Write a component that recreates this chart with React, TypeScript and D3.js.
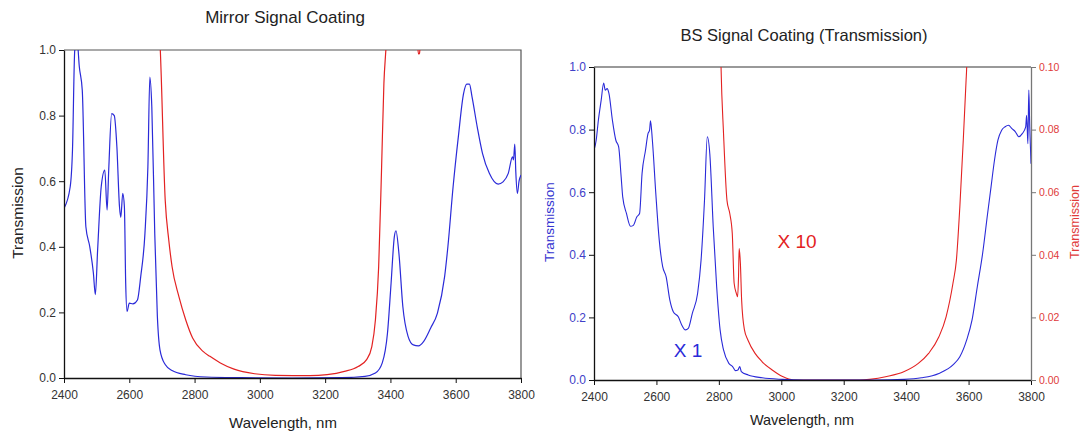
import React, { useEffect, useRef } from "react";
import * as d3 from "d3";

// Wavelength (nm) / transmission samples for each trace.
const mirrorSignalWl = [2400, 2419, 2426, 2433, 2440, 2447, 2456, 2467, 2479, 2490, 2496, 2503, 2514, 2525, 2532, 2537, 2546, 2554, 2562, 2570, 2574, 2580, 2585, 2589, 2593, 2600, 2611, 2625, 2635, 2648, 2657, 2663, 2669, 2678, 2686, 2694, 2710, 2731, 2773, 2836, 2942, 3100, 3250, 3322, 3354, 3375, 3391, 3402, 3412, 3417, 3426, 3438, 3454, 3470, 3486, 3502, 3523, 3544, 3566, 3576, 3592, 3608, 3624, 3634, 3642, 3650, 3666, 3682, 3703, 3730, 3745, 3761, 3774, 3777, 3781, 3784, 3789, 3794, 3800];
const mirrorSignalT = [0.517, 0.583, 0.695, 1.0, 1.03, 0.948, 0.877, 0.461, 0.40, 0.32, 0.254, 0.39, 0.583, 0.634, 0.512, 0.634, 0.806, 0.80, 0.705, 0.522, 0.49, 0.563, 0.522, 0.289, 0.203, 0.228, 0.226, 0.238, 0.309, 0.441, 0.644, 0.917, 0.827, 0.441, 0.188, 0.086, 0.041, 0.023, 0.010, 0.003, 0.001, 0.0, 0.001, 0.005, 0.015, 0.046, 0.137, 0.289, 0.431, 0.449, 0.38, 0.218, 0.127, 0.101, 0.098, 0.112, 0.152, 0.198, 0.309, 0.40, 0.583, 0.735, 0.867, 0.896, 0.896, 0.857, 0.765, 0.685, 0.624, 0.591, 0.598, 0.624, 0.674, 0.665, 0.713, 0.63, 0.563, 0.60, 0.619];

const mirrorRefWl = [2690, 2695, 2710, 2721, 2731, 2752, 2773, 2794, 2826, 2847, 2879, 2921, 2984, 3048, 3153, 3206, 3259, 3301, 3327, 3343, 3354, 3364, 3373, 3380, 3386, 3392, 3480, 3486, 3489, 3494, 3800];
const mirrorRefT = [1.1, 1.0, 0.543, 0.42, 0.34, 0.248, 0.177, 0.122, 0.081, 0.066, 0.046, 0.027, 0.013, 0.008, 0.007, 0.010, 0.020, 0.035, 0.056, 0.096, 0.177, 0.34, 0.644, 0.898, 1.0, 1.1, 1.05, 0.988, 0.99, 1.05, 1.1];

const bsSignalWl = [2400, 2407, 2414, 2423, 2431, 2436, 2442, 2448, 2459, 2470, 2479, 2487, 2492, 2504, 2517, 2526, 2537, 2546, 2554, 2565, 2573, 2578, 2581, 2587, 2598, 2609, 2620, 2631, 2643, 2654, 2670, 2681, 2693, 2702, 2715, 2732, 2743, 2754, 2763, 2771, 2782, 2793, 2804, 2815, 2832, 2844, 2853, 2861, 2867, 2872, 2894, 2939, 3004, 3071, 3300, 3394, 3449, 3505, 3550, 3572, 3594, 3611, 3628, 3645, 3661, 3672, 3683, 3694, 3706, 3717, 3728, 3739, 3750, 3761, 3772, 3783, 3786, 3790, 3793, 3796, 3800];
const bsSignalT = [0.734, 0.766, 0.83, 0.894, 0.949, 0.926, 0.931, 0.915, 0.83, 0.766, 0.745, 0.649, 0.585, 0.532, 0.491, 0.494, 0.521, 0.532, 0.66, 0.734, 0.787, 0.798, 0.828, 0.766, 0.596, 0.447, 0.362, 0.33, 0.255, 0.218, 0.202, 0.176, 0.16, 0.165, 0.213, 0.277, 0.383, 0.574, 0.777, 0.723, 0.489, 0.298, 0.16, 0.096, 0.053, 0.043, 0.03, 0.032, 0.043, 0.027, 0.016, 0.007, 0.002, 0.0, 0.0, 0.002, 0.007, 0.021, 0.048, 0.074, 0.128, 0.191, 0.298, 0.404, 0.532, 0.617, 0.702, 0.766, 0.798, 0.809, 0.814, 0.803, 0.793, 0.777, 0.787, 0.809, 0.846, 0.755, 0.926, 0.809, 0.691];

const bsRefWl = [2805, 2807, 2815, 2826, 2835, 2843, 2849, 2856, 2860, 2863, 2865, 2869, 2873, 2882, 2893, 2916, 2938, 2971, 3004, 3038, 3250, 3283, 3338, 3394, 3439, 3472, 3505, 3528, 3550, 3561, 3572, 3583, 3592, 3594, 3596];
const bsRefT = [0.11, 0.1, 0.0787, 0.0574, 0.0532, 0.0468, 0.0309, 0.0277, 0.0266, 0.033, 0.042, 0.0372, 0.0255, 0.016, 0.0128, 0.0085, 0.0059, 0.0032, 0.0011, 0.0, 0.0, 0.0002, 0.0011, 0.0027, 0.0053, 0.0085, 0.0138, 0.0202, 0.0309, 0.0383, 0.0553, 0.0766, 0.0957, 0.1, 0.11];

const xTicks = [2400, 2600, 2800, 3000, 3200, 3400, 3600, 3800];
const yTicks = [0, 0.2, 0.4, 0.6, 0.8, 1.0];
const y2Ticks = [0, 0.02, 0.04, 0.06, 0.08, 0.1];

const BLUE = "#2a2ad8";
const RED = "#e32222";
const FONT = "'Liberation Sans', Arial, sans-serif";

const toPts = (wl: number[], t: number[]) => wl.map((w, i) => [w, t[i]] as [number, number]);

export default function App() {
  const ref = useRef<SVGSVGElement>(null);

  useEffect(() => {
    const svg = d3.select(ref.current);
    svg.selectAll("*").remove();

    // ---------- Left panel: mirror ----------
    {
      const L = 64, R = 521, T = 50, B = 378;
      const x = d3.scaleLinear().domain([2400, 3800]).range([L, R]);
      const y = d3.scaleLinear().domain([0, 1]).range([B, T]);
      const g = svg.append("g");
      g.append("clipPath").attr("id", "clipL").append("rect").attr("x", L).attr("y", T).attr("width", R - L).attr("height", B - T);

      // frame top/right
      g.append("path").attr("d", `M${L},${T}H${R}V${B}`).attr("fill", "none").attr("stroke", "#555").attr("stroke-width", 1.2);

      const line = d3.line<[number, number]>().x(d => x(d[0])).y(d => y(d[1])).curve(d3.curveMonotoneX);
      const lines = g.append("g").attr("clip-path", "url(#clipL)");
      lines.append("path").attr("d", line(toPts(mirrorRefWl, mirrorRefT))!).attr("fill", "none").attr("stroke", RED).attr("stroke-width", 1.2);
      lines.append("path").attr("d", line(toPts(mirrorSignalWl, mirrorSignalT))!).attr("fill", "none").attr("stroke", BLUE).attr("stroke-width", 1.2);

      const xa = g.append("g").attr("transform", `translate(0,${B})`).call(d3.axisBottom(x).tickValues(xTicks).tickSize(5).tickSizeOuter(0).tickFormat(d3.format("d")));
      const ya = g.append("g").attr("transform", `translate(${L},0)`).call(d3.axisLeft(y).tickValues(yTicks).tickSize(5).tickSizeOuter(0).tickFormat(d3.format(".1f")));
      [xa, ya].forEach(a => {
        a.select(".domain").attr("stroke", "#111").attr("stroke-width", 1.3);
        a.selectAll(".tick line").attr("stroke", "#111");
        a.selectAll("text").attr("fill", "#333").attr("font-family", FONT).attr("font-size", 12);
      });
      xa.selectAll("text").attr("dy", "1.1em");

      g.append("text").attr("x", 285).attr("y", 23).attr("text-anchor", "middle").attr("font-family", FONT).attr("font-size", 17).attr("fill", "#222").text("Mirror Signal Coating");
      g.append("text").attr("x", 283).attr("y", 428).attr("text-anchor", "middle").attr("font-family", FONT).attr("font-size", 15).attr("fill", "#222").text("Wavelength, nm");
      g.append("text").attr("transform", `translate(23,213) rotate(-90)`).attr("text-anchor", "middle").attr("font-family", FONT).attr("font-size", 15.5).attr("fill", "#222").text("Transmission");
    }

    // ---------- Right panel: beam splitter ----------
    {
      const L = 594, R = 1031, T = 67, B = 380;
      const x = d3.scaleLinear().domain([2400, 3800]).range([L, R]);
      const y = d3.scaleLinear().domain([0, 1]).range([B, T]);
      const y2 = d3.scaleLinear().domain([0, 0.1]).range([B, T]);
      const g = svg.append("g");
      g.append("clipPath").attr("id", "clipR").append("rect").attr("x", L).attr("y", T).attr("width", R - L).attr("height", B - T);

      g.append("line").attr("x1", L).attr("x2", R).attr("y1", T).attr("y2", T).attr("stroke", "#777").attr("stroke-width", 1.3);

      const lines = g.append("g").attr("clip-path", "url(#clipR)");
      const line1 = d3.line<[number, number]>().x(d => x(d[0])).y(d => y(d[1])).curve(d3.curveMonotoneX);
      const line2 = d3.line<[number, number]>().x(d => x(d[0])).y(d => y2(d[1])).curve(d3.curveMonotoneX);
      lines.append("path").attr("d", line2(toPts(bsRefWl, bsRefT))!).attr("fill", "none").attr("stroke", RED).attr("stroke-width", 1.1);
      lines.append("path").attr("d", line1(toPts(bsSignalWl, bsSignalT))!).attr("fill", "none").attr("stroke", BLUE).attr("stroke-width", 1.1);

      const xa = g.append("g").attr("transform", `translate(0,${B})`).call(d3.axisBottom(x).tickValues(xTicks).tickSize(5).tickSizeOuter(0).tickFormat(d3.format("d")));
      xa.select(".domain").attr("stroke", "#111").attr("stroke-width", 1.3);
      xa.selectAll(".tick line").attr("stroke", "#111");
      xa.selectAll("text").attr("fill", "#333").attr("font-family", FONT).attr("font-size", 12).attr("dy", "1.1em");

      const ya = g.append("g").attr("transform", `translate(${L},0)`).call(d3.axisLeft(y).tickValues(yTicks).tickSize(5).tickSizeOuter(0).tickFormat(d3.format(".1f")));
      ya.select(".domain").attr("stroke", "#111").attr("stroke-width", 1.3);
      ya.selectAll(".tick line").attr("stroke", "#111");
      ya.selectAll("text").attr("fill", "#4040c8").attr("font-family", FONT).attr("font-size", 12);

      const ya2 = g.append("g").attr("transform", `translate(${R},0)`).call(d3.axisRight(y2).tickValues(y2Ticks).tickSize(5).tickSizeOuter(0).tickFormat(d3.format(".2f")));
      ya2.select(".domain").attr("stroke", "#777").attr("stroke-width", 1.3);
      ya2.selectAll(".tick line").attr("stroke", "#777");
      ya2.selectAll("text").attr("fill", "#e03a3a").attr("font-family", FONT).attr("font-size", 10.5);

      g.append("text").attr("x", 804).attr("y", 41).attr("text-anchor", "middle").attr("font-family", FONT).attr("font-size", 16.5).attr("fill", "#222").text("BS Signal Coating (Transmission)");
      g.append("text").attr("x", 802).attr("y", 425).attr("text-anchor", "middle").attr("font-family", FONT).attr("font-size", 14.5).attr("fill", "#222").text("Wavelength, nm");
      g.append("text").attr("transform", `translate(554,222) rotate(-90)`).attr("text-anchor", "middle").attr("font-family", FONT).attr("font-size", 13.5).attr("fill", "#3434d0").text("Transmission");
      g.append("text").attr("transform", `translate(1079,222) rotate(-90)`).attr("text-anchor", "middle").attr("font-family", FONT).attr("font-size", 12.5).attr("fill", "#e03a3a").text("Transmission");
      g.append("text").attr("x", 797).attr("y", 248).attr("text-anchor", "middle").attr("font-family", FONT).attr("font-size", 19).attr("fill", RED).text("X 10");
      g.append("text").attr("x", 688).attr("y", 357).attr("text-anchor", "middle").attr("font-family", FONT).attr("font-size", 19).attr("fill", BLUE).text("X 1");
    }
  }, []);

  return (
    <svg ref={ref} width={1084} height={432} style={{ position: "absolute", left: 0, top: 0, background: "#fff" }} />
  );
}
